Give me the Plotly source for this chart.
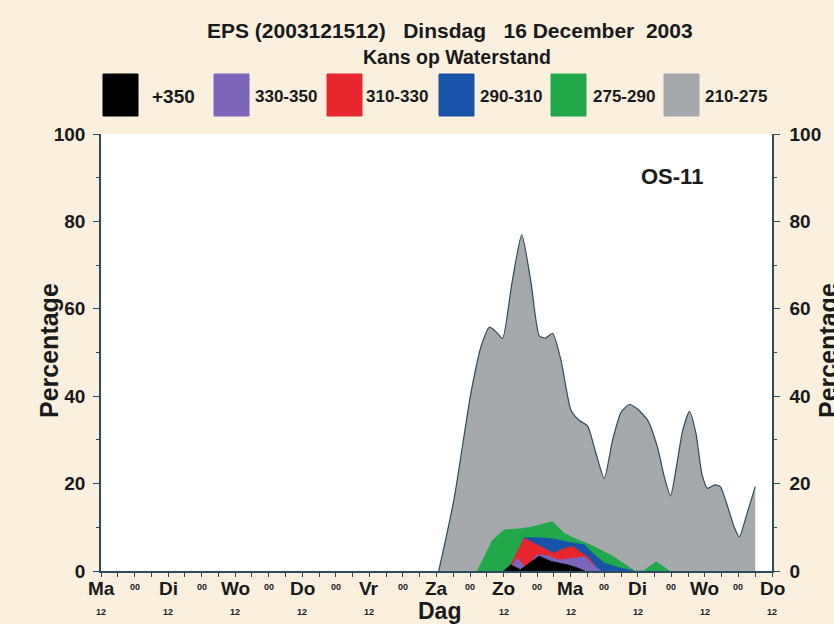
import plotly.graph_objects as go

# ---------------- data (hours after Maandag 12h) ----------------
hours_210 = [120.8, 126.2, 132.3, 136.0, 139.0, 141.5, 143.6, 147.0, 150.5, 153.8, 156.8,
             159.0, 161.5, 164.5, 168.1, 171.0, 174.0, 177.0, 180.0, 183.0, 186.0, 189.0,
             192.0, 195.6, 199.0, 201.5, 203.7, 206.0, 208.0, 210.5, 212.8, 215.0, 217.0,
             219.5, 221.5, 224.0, 226.5, 228.3, 231.0, 234.0]
pct_210 = [0.0, 16.2, 40.7, 51.5, 55.8, 54.6, 53.2, 66.0, 76.9, 66.0, 53.8,
           53.3, 54.4, 48.3, 36.8, 34.5, 33.2, 27.0, 21.2, 30.0, 36.3, 38.1,
           37.0, 34.4, 28.4, 21.5, 17.2, 24.5, 32.0, 36.5, 31.5, 22.0, 18.9,
           19.7, 19.3, 15.0, 10.0, 7.8, 13.0, 19.3]

hours_275 = [134.6, 137.0, 140.0, 144.2, 149.0, 153.8, 157.0, 161.5, 165.7, 170.5,
             175.0, 178.8, 183.0, 186.0, 190.8, 194.0, 198.6, 203.3]
pct_275 = [0.0, 3.0, 7.0, 9.4, 9.6, 10.0, 10.6, 11.3, 8.6, 7.1,
           6.0, 4.8, 3.4, 2.1, 0.0, 0.0, 2.1, 0.0]

hours_290 = [145.5, 148.0, 151.4, 157.0, 162.0, 167.0, 172.9, 176.0, 180.0, 185.0, 190.7]
pct_290 = [0.0, 3.0, 7.6, 7.6, 7.3, 6.6, 6.0, 4.0, 1.8, 0.8, 0.0]

hours_310 = [145.5, 147.5, 151.4, 156.0, 162.0, 165.0, 168.7, 171.0, 174.0, 177.0, 178.5]
pct_310 = [0.0, 2.5, 7.5, 6.0, 4.0, 5.0, 5.6, 4.5, 3.3, 1.0, 0.0]

hours_330 = [145.5, 149.0, 152.0, 156.0, 160.0, 163.5, 168.0, 173.0, 176.0, 178.8]
pct_330 = [0.0, 2.9, 0.5, 3.7, 3.5, 2.5, 2.8, 3.3, 1.5, 0.0]

hours_350 = [144.0, 146.6, 150.0, 156.7, 161.0, 167.0, 170.0, 173.0]
pct_350 = [0.0, 1.4, 0.3, 3.4, 2.2, 1.4, 0.8, 0.0]

class_labels = ["+350", "330-350", "310-330", "290-310", "275-290", "210-275"]
class_colors = ["#000000", "#7B66BC", "#E8262E", "#1753A9", "#21A84A", "#A6A9AB"]

day_labels = ["Ma", "Di", "Wo", "Do", "Vr", "Za", "Zo", "Ma", "Di", "Wo", "Do"]
day_hours = [0, 24, 48, 72, 96, 120, 144, 168, 192, 216, 240]
hour_labels = ["12", "12", "12", "12", "12", "", "12", "12", "12", "12", "12"]
midnight_hours = [12, 36, 60, 84, 108, 132, 156, 180, 204, 228]

title1 = "EPS (2003121512)\u00a0\u00a0\u00a0Dinsdag\u00a0\u00a0\u00a016 December\u00a0\u00a02003"
title2 = "Kans op Waterstand"
station = "OS-11"

# ---------------- layout helpers ----------------
W, H = 834, 624
L, R, T, B = 101, 772, 134, 571
PW, PH = R - L, B - T
AX = "#2B4C5C"
FONT = "Liberation Sans"
TXT = "#1a1a1a"
PAPER = "#FBF0DE"


def px(x):
    return (x - L) / PW


def py(y):
    return (B - y) / PH


fig = go.Figure()

series = [
    (hours_210, pct_210, 5, "spline"),
    (hours_275, pct_275, 4, "linear"),
    (hours_290, pct_290, 3, "linear"),
    (hours_310, pct_310, 2, "linear"),
    (hours_330, pct_330, 1, "linear"),
    (hours_350, pct_350, 0, "linear"),
]
for hx, vy, ci, shape in series:
    line_col = AX if ci == 5 else class_colors[ci]
    fig.add_trace(go.Scatter(
        x=hx, y=vy, mode="lines", fill="tozeroy",
        fillcolor=class_colors[ci],
        line=dict(color=line_col, width=1.2 if ci == 5 else 0.8, shape=shape,
                  smoothing=0.6 if shape == "spline" else None),
        name=class_labels[ci], showlegend=False, hoverinfo="skip",
    ))

# invisible trace to activate right axis
fig.add_trace(go.Scatter(x=[0], y=[0], yaxis="y2", mode="markers",
                         marker=dict(opacity=0), showlegend=False, hoverinfo="skip"))

annotations = []
shapes = []


def ann(text, x, y, size, xanchor="center", yanchor="middle", xref="paper", yref="paper",
        yshift=0, angle=0, pad=1):
    annotations.append(dict(text=text, x=x, y=y, xref=xref, yref=yref, xanchor=xanchor,
                            yanchor=yanchor, yshift=yshift, textangle=angle, showarrow=False,
                            borderpad=pad,
                            font=dict(family=FONT, size=size, color=TXT)))


# titles
ann(f"<b>{title1}</b>", px(450), py(30), 21)
ann(f"<b>{title2}</b>", px(457), py(57), 19.5)

# legend (boxes + labels)
box_left = [103, 214, 327, 439, 551, 664]
label_left = [150, 253, 364, 478, 591, 703]
for i, lab in enumerate(class_labels):
    shapes.append(dict(type="rect", xref="paper", yref="paper",
                       x0=px(box_left[i]), x1=px(box_left[i] + 35),
                       y0=py(116), y1=py(74),
                       fillcolor=class_colors[i], line=dict(color=class_colors[i], width=1)))
    ann(f"<b>{lab}</b>", px(label_left[i]), py(96), 19 if i == 0 else 17, xanchor="left")

# x labels
for h, d, hl in zip(day_hours, day_labels, hour_labels):
    ann(f"<b>{d}</b>", h, 0, 19, xref="x", yshift=-17, pad=0)
    if hl:
        ann(f"<b>{hl}</b>", h, 0, 9, xref="x", yshift=-41)
for h in midnight_hours:
    ann("<b>00</b>", h, 0, 9, xref="x", yshift=-16)

ann("<b>Dag</b>", px(440), 0, 23, yshift=-40, pad=0)

# y titles
ann("<b>Percentage</b>", px(49), py(351), 25, angle=-90)
ann("<b>Percentage</b>", px(828), py(351), 25, angle=-90)

ann(f"<b>{station}</b>", px(672), py(176), 22)

yt = [0, 20, 40, 60, 80, 100]
yaxis_common = dict(range=[0, 100], tickvals=yt, ticktext=[f"<b>{v}</b>" for v in yt],
                    showline=True, linecolor=AX, linewidth=1.5, ticks="outside",
                    ticklen=6, tickwidth=1.2, tickcolor=AX, showgrid=False, zeroline=False,
                    tickfont=dict(family=FONT, size=19, color=TXT),
                    minor=dict(dtick=10, ticks="outside", ticklen=3, tickcolor=AX, showgrid=False),
                    fixedrange=True)

fig.update_layout(
    width=W, height=H,
    margin=dict(l=L, r=W - R, t=T, b=H - B, pad=0),
    paper_bgcolor=PAPER, plot_bgcolor="#FFFFFF",
    showlegend=False,
    xaxis=dict(range=[0, 240], tick0=0, dtick=6, ticks="outside", ticklen=4, tickwidth=1.2,
               tickcolor=AX, showticklabels=False, showline=True, linecolor=AX, linewidth=1.5,
               showgrid=False, zeroline=False, fixedrange=True),
    yaxis=dict(**yaxis_common, ticklabelstandoff=4),
    yaxis2=dict(**yaxis_common, overlaying="y", side="right", ticklabelstandoff=6),
    annotations=annotations,
    shapes=shapes,
)

fig.write_html("out.html", config={"displayModeBar": False},
               post_script="document.body.style.margin='0';")
